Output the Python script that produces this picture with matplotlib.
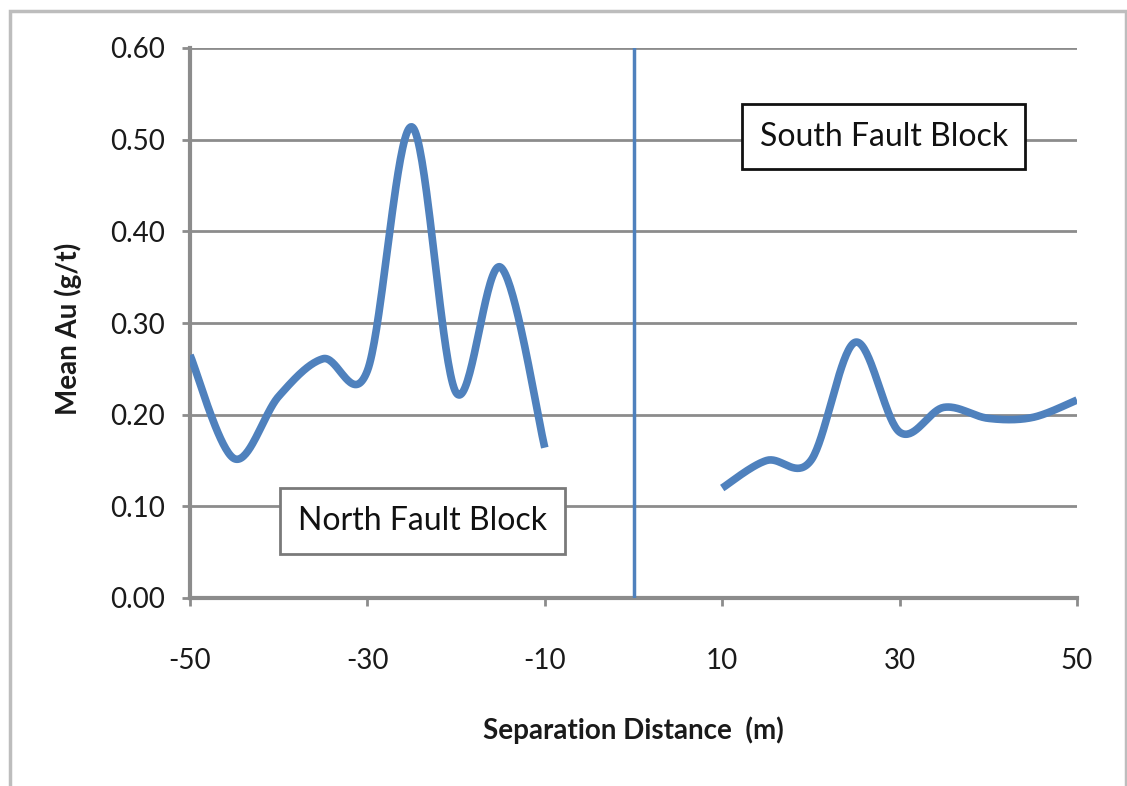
import numpy as np
import matplotlib
matplotlib.use("Agg")
import matplotlib.pyplot as plt
from matplotlib.patches import Rectangle

# Data
north_x = [-50, -45, -40, -35, -30, -25, -20, -15, -10]
north_y = [0.265, 0.152, 0.220, 0.261, 0.248, 0.514, 0.224, 0.361, 0.164]
south_x = [10, 15, 20, 25, 30, 35, 40, 45, 50]
south_y = [0.120, 0.150, 0.150, 0.279, 0.181, 0.208, 0.196, 0.197, 0.216]
x_ticks = [-50, -30, -10, 10, 30, 50]
y_ticks = [0.0, 0.1, 0.2, 0.3, 0.4, 0.5, 0.6]

LINE = "#4F81BD"
GRID = "#8C8C8C"


def smooth(xs, ys, n=40):
    """Excel-style smoothed line: Catmull-Rom Bezier through the points."""
    p = np.column_stack([xs, ys]).astype(float)
    out = []
    m = len(p)
    for i in range(m - 1):
        p0 = p[i - 1] if i > 0 else p[i]
        p1 = p[i]
        p2 = p[i + 1]
        p3 = p[i + 2] if i + 2 < m else p[i + 1]
        c1 = p1 + (p2 - p0) / 6.0
        c2 = p2 - (p3 - p1) / 6.0
        t = np.linspace(0, 1, n)[:, None]
        seg = ((1 - t) ** 3) * p1 + 3 * ((1 - t) ** 2) * t * c1 + 3 * (1 - t) * t ** 2 * c2 + t ** 3 * p2
        out.append(seg if i == 0 else seg[1:])
    out = np.vstack(out)
    return out[:, 0], out[:, 1]


plt.rcParams['font.family'] = ['Lato', 'DejaVu Sans']

fig = plt.figure(figsize=(11.27, 7.86), dpi=100)
fig.patch.set_facecolor("white")

# outer chart border
fig.patches.append(Rectangle((10 / 1127, -0.01), 1116 / 1127, 1 - 11 / 786 + 0.01,
                             transform=fig.transFigure, fill=False,
                             edgecolor="#BDBDBD", linewidth=2.5, zorder=0))

ax = fig.add_axes([190 / 1127, 1 - 598 / 786, (1077 - 190) / 1127, (598 - 48) / 786])

ax.set_xlim(-50, 50)
ax.set_ylim(0, 0.6)
ax.set_xticks(x_ticks)
ax.set_xticklabels([str(v) for v in x_ticks])
ax.set_yticks(y_ticks)
ax.set_yticklabels([f"{v:.2f}" for v in y_ticks])

ax.grid(axis='y', color=GRID, linewidth=2)
ax.set_axisbelow(True)
for s in ['top', 'right']:
    ax.spines[s].set_visible(False)
ax.spines['left'].set_color(GRID)
ax.spines['left'].set_linewidth(3)
ax.spines['bottom'].set_color(GRID)
ax.spines['bottom'].set_linewidth(3)
ax.tick_params(axis='both', colors=GRID, width=2, length=6, labelcolor="#1a1a1a",
               labelsize=20)
ax.tick_params(axis='x', pad=30)
ax.tick_params(axis='y', pad=12)

ax.axvline(0, color=LINE, linewidth=2.5, zorder=3)

sx, sy = smooth(north_x, north_y)
ax.plot(sx, sy, color=LINE, linewidth=5.5, solid_capstyle='butt', zorder=4)
sx, sy = smooth(south_x, south_y)
ax.plot(sx, sy, color=LINE, linewidth=5.5, solid_capstyle='butt', zorder=4)

ax.set_xlabel("Separation Distance  (m)", fontsize=20, fontweight='bold',
              color="#1a1a1a")
ax.xaxis.set_label_coords(0.5, -0.215)
ax.set_ylabel("Mean Au (g/t)", fontsize=20, fontweight='bold', color="#1a1a1a")
ax.yaxis.set_label_coords(-0.122, 0.49)

ax.text(-23.8, 0.084, "North Fault Block", fontsize=23, ha='center', va='center',
        color="#111111", zorder=5,
        bbox=dict(boxstyle='square,pad=0.55', facecolor='white', edgecolor='#7a7a7a',
                  linewidth=2))
ax.text(28.2, 0.503, "South Fault Block", fontsize=23, ha='center', va='center',
        color="#111111", zorder=5,
        bbox=dict(boxstyle='square,pad=0.55', facecolor='white', edgecolor='#111111',
                  linewidth=2))

fig.savefig("out.png", dpi=100, facecolor="white")
